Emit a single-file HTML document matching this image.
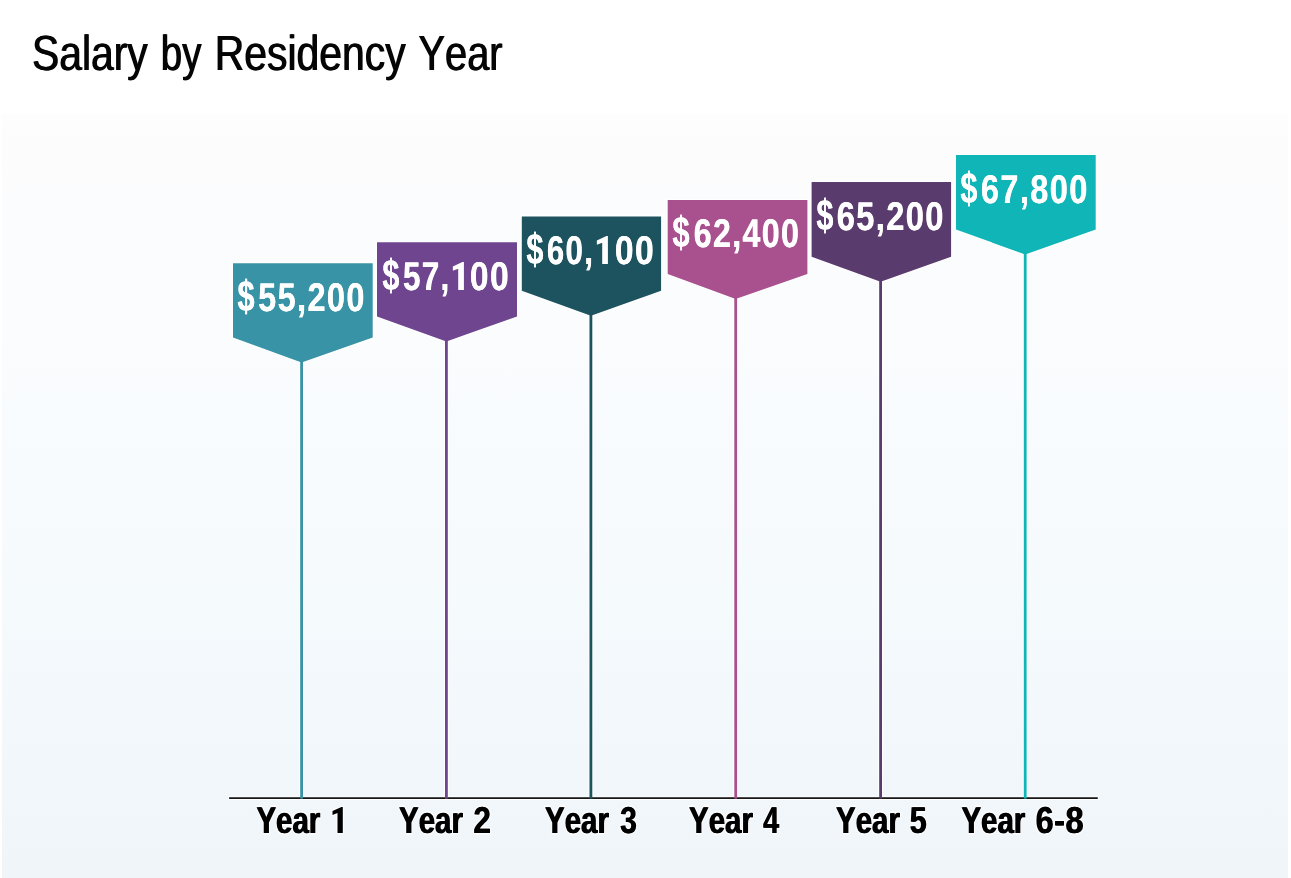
<!DOCTYPE html>
<html><head><meta charset="utf-8"><title>Salary by Residency Year</title>
<style>
html,body{margin:0;padding:0;background:#fff;}
body{width:1291px;height:878px;overflow:hidden;position:relative;font-family:"Liberation Sans",sans-serif;}
svg{position:absolute;left:0;top:0;display:block;will-change:transform;}
text{font-family:"Liberation Sans",sans-serif;text-rendering:geometricPrecision;font-kerning:none;}
.g{fill-opacity:0;stroke:none;}
</style></head><body>
<svg width="1291" height="878" viewBox="0 0 1291 878">
<defs>
<linearGradient id="bg" x1="0" y1="0" x2="0" y2="1">
<stop offset="0" stop-color="#fdfdfd"/>
<stop offset="0.08" stop-color="#fcfcfd"/>
<stop offset="0.3" stop-color="#fafcfe"/>
<stop offset="0.64" stop-color="#f5fafd"/>
<stop offset="1" stop-color="#f0f5fa"/>
</linearGradient>
</defs>
<!-- panel background -->
<rect x="2" y="114" width="1286" height="764" fill="url(#bg)"/>
<!-- soft white halos -->
<g fill="#ffffff" stroke="#ffffff" opacity="0.85">
<rect x="299.2" y="359.5" width="4.8" height="438.5" stroke="none"/>
<polygon points="233.0,263.3 372.7,263.3 372.7,337.5 301.6,362.5 233.0,337.5" stroke-width="2.6" stroke-linejoin="miter"/>
<rect x="444.0" y="338.5" width="4.8" height="459.5" stroke="none"/>
<polygon points="377.0,242.3 517.0,242.3 517.0,316.5 446.4,341.5 377.0,316.5" stroke-width="2.6" stroke-linejoin="miter"/>
<rect x="588.5" y="312.8" width="4.8" height="485.2" stroke="none"/>
<polygon points="521.8,216.5 661.1,216.5 661.1,290.8 590.9,315.8 521.8,290.8" stroke-width="2.6" stroke-linejoin="miter"/>
<rect x="733.3" y="295.9" width="4.8" height="502.1" stroke="none"/>
<polygon points="667.7,200.1 807.4,200.1 807.4,273.9 735.7,298.9 667.7,273.9" stroke-width="2.6" stroke-linejoin="miter"/>
<rect x="878.2" y="278.7" width="4.8" height="519.3" stroke="none"/>
<polygon points="811.6,182.1 951.1,182.1 951.1,256.7 880.6,281.7 811.6,256.7" stroke-width="2.6" stroke-linejoin="miter"/>
<rect x="1022.8" y="251.5" width="4.8" height="546.5" stroke="none"/>
<polygon points="956.0,155.1 1095.7,155.1 1095.7,229.5 1025.2,254.5 956.0,229.5" stroke-width="2.6" stroke-linejoin="miter"/>
<rect x="228.1" y="796.3" width="870.7" height="3.6" stroke="none"/>
<use href="#y0" x="0.5" stroke-width="3.2" stroke-linejoin="round"/>
<use href="#y1" x="0.5" stroke-width="3.2" stroke-linejoin="round"/>
<use href="#n1" x="0.4" stroke-width="3.0" stroke-linejoin="round"/>
<use href="#y2" x="0.5" stroke-width="3.2" stroke-linejoin="round"/>
<use href="#n2" x="0.4" stroke-width="3.0" stroke-linejoin="round"/>
<use href="#y3" x="0.5" stroke-width="3.2" stroke-linejoin="round"/>
<use href="#n3" x="0.4" stroke-width="3.0" stroke-linejoin="round"/>
<use href="#y4" x="0.5" stroke-width="3.2" stroke-linejoin="round"/>
<use href="#n4" x="0.4" stroke-width="3.0" stroke-linejoin="round"/>
<use href="#y5" x="0.5" stroke-width="3.2" stroke-linejoin="round"/>
<use href="#n5" x="0.4" stroke-width="3.0" stroke-linejoin="round"/>
<use href="#p2" stroke-width="2.2" stroke-linejoin="round"/>
</g>
<!-- axis, stems, flags -->
<rect x="229.1" y="797.3" width="868.7" height="1.6" fill="#000"/>
<rect x="300.2" y="359.5" width="2.8" height="439.1" fill="#3793a5"/>
<rect x="445.0" y="338.5" width="2.8" height="460.1" fill="#6f4590"/>
<rect x="589.5" y="312.8" width="2.8" height="485.8" fill="#1c535e"/>
<rect x="734.3" y="295.9" width="2.8" height="502.7" fill="#a9518f"/>
<rect x="879.2" y="278.7" width="2.8" height="519.9" fill="#5a3b6e"/>
<rect x="1023.8" y="251.5" width="2.8" height="547.1" fill="#10b5b7"/>
<polygon points="233.0,263.3 372.7,263.3 372.7,337.5 301.6,362.5 233.0,337.5" fill="#3793a5"/>
<polygon points="377.0,242.3 517.0,242.3 517.0,316.5 446.4,341.5 377.0,316.5" fill="#6f4590"/>
<polygon points="521.8,216.5 661.1,216.5 661.1,290.8 590.9,315.8 521.8,290.8" fill="#1c535e"/>
<polygon points="667.7,200.1 807.4,200.1 807.4,273.9 735.7,298.9 667.7,273.9" fill="#a9518f"/>
<polygon points="811.6,182.1 951.1,182.1 951.1,256.7 880.6,281.7 811.6,256.7" fill="#5a3b6e"/>
<polygon points="956.0,155.1 1095.7,155.1 1095.7,229.5 1025.2,254.5 956.0,229.5" fill="#10b5b7"/>
<!-- title -->
<g fill="#050505">
<text id="t0" transform="translate(31.51 70) scale(0.8264 1)" font-size="49.4" font-weight="normal">Salary </text>
<use href="#t0" x="1.0"/>
<text id="t1" transform="translate(160.30 70) scale(0.7778 1)" font-size="49.4" font-weight="normal">by </text>
<use href="#t1" x="1.0"/>
<text id="t2" transform="translate(214.20 70) scale(0.8282 1)" font-size="49.4" font-weight="normal">Residency </text>
<use href="#t2" x="1.0"/>
<text id="t3" transform="translate(417.95 70) scale(0.8060 1)" font-size="49.4" font-weight="normal">Year</text>
<use href="#t3" x="1.0"/>
</g>
<!-- value labels -->
<g fill="#ffffff">
<text id="d0" transform="translate(237.30 311.2) scale(0.7649 1.09)" font-size="40" font-weight="bold">$</text>
<use href="#d0" x="0.4"/>
<text id="v0" transform="translate(257.92 311) scale(0.8127 1)" font-size="40" font-weight="bold" letter-spacing="1.7">55,200</text>
<use href="#v0" x="0.4"/>
</g>
<g fill="#ffffff">
<text id="d1" transform="translate(382.16 290.2) scale(0.7655 1.09)" font-size="40" font-weight="bold">$</text>
<use href="#d1" x="0.4"/>
<text id="v1" transform="translate(402.74 290) scale(0.7856 1)" font-size="40" font-weight="bold" letter-spacing="1.7">57,</text>
<use href="#v1" x="0.4"/>
<path id="p0" d="M463.90,262.10 L463.90,290.00 L458.21,290.00 L458.21,268.75 L452.85,270.68 L452.85,266.50 L462.40,262.10 Z"/>
<text class="g" x="452.6" y="290" font-size="40" font-weight="bold">1</text>
<text id="w1" transform="translate(469.72 290) scale(0.8397 1)" font-size="40" font-weight="bold" letter-spacing="1.7">00</text>
<use href="#w1" x="0.4"/>
</g>
<g fill="#ffffff">
<text id="d2" transform="translate(526.20 264.2) scale(0.7663 1.09)" font-size="40" font-weight="bold">$</text>
<use href="#d2" x="0.4"/>
<text id="v2" transform="translate(546.68 264) scale(0.7793 1)" font-size="40" font-weight="bold" letter-spacing="1.7">60,</text>
<use href="#v2" x="0.4"/>
<path id="p1" d="M607.90,236.10 L607.90,264.00 L602.21,264.00 L602.21,242.75 L596.85,244.68 L596.85,240.50 L606.40,236.10 Z"/>
<text class="g" x="596.6" y="264" font-size="40" font-weight="bold">1</text>
<text id="w2" transform="translate(614.63 264) scale(0.8421 1)" font-size="40" font-weight="bold" letter-spacing="1.7">00</text>
<use href="#w2" x="0.4"/>
</g>
<g fill="#ffffff">
<text id="d3" transform="translate(672.20 247.2) scale(0.7752 1.09)" font-size="40" font-weight="bold">$</text>
<use href="#d3" x="0.4"/>
<text id="v3" transform="translate(693.48 247) scale(0.8039 1)" font-size="40" font-weight="bold" letter-spacing="1.7">62,400</text>
<use href="#v3" x="0.4"/>
</g>
<g fill="#ffffff">
<text id="d4" transform="translate(816.17 230.2) scale(0.7659 1.09)" font-size="40" font-weight="bold">$</text>
<use href="#d4" x="0.4"/>
<text id="v4" transform="translate(836.52 230) scale(0.8155 1)" font-size="40" font-weight="bold" letter-spacing="1.7">65,200</text>
<use href="#v4" x="0.4"/>
</g>
<g fill="#ffffff">
<text id="d5" transform="translate(960.16 203.2) scale(0.7660 1.09)" font-size="40" font-weight="bold">$</text>
<use href="#d5" x="0.4"/>
<text id="v5" transform="translate(980.71 203) scale(0.8128 1)" font-size="40" font-weight="bold" letter-spacing="1.7">67,800</text>
<use href="#v5" x="0.4"/>
</g>
<!-- year labels -->
<g fill="#000000">
<text id="y0" transform="translate(255.90 833) scale(0.7862 1)" font-size="37.5" font-weight="bold">Year</text>
<use href="#y0" x="1.0"/>
<text class="g" x="322.4" y="833" font-size="37.5" font-weight="bold"> </text>
<path id="p2" d="M342.80,806.90 L342.80,832.90 L337.50,832.90 L337.50,813.10 L332.50,814.90 L332.50,811.00 L341.40,806.90 Z"/>
<text class="g" x="333" y="833" font-size="37.5" font-weight="bold">1</text>
</g>
<g fill="#000000">
<text id="y1" transform="translate(398.61 833) scale(0.7843 1)" font-size="37.5" font-weight="bold">Year</text>
<use href="#y1" x="1.0"/>
<text class="g" x="465.1" y="833" font-size="37.5" font-weight="bold"> </text>
<text id="n1" transform="translate(473.01 833) scale(0.8410 1)" font-size="37.5" font-weight="bold" letter-spacing="0.6">2</text>
<use href="#n1" x="0.8"/>
</g>
<g fill="#000000">
<text id="y2" transform="translate(544.61 833) scale(0.7843 1)" font-size="37.5" font-weight="bold">Year</text>
<use href="#y2" x="1.0"/>
<text class="g" x="611.1" y="833" font-size="37.5" font-weight="bold"> </text>
<text id="n2" transform="translate(619.68 833) scale(0.8040 1)" font-size="37.5" font-weight="bold" letter-spacing="0.6">3</text>
<use href="#n2" x="0.8"/>
</g>
<g fill="#000000">
<text id="y3" transform="translate(688.61 833) scale(0.7843 1)" font-size="37.5" font-weight="bold">Year</text>
<use href="#y3" x="1.0"/>
<text class="g" x="755.1" y="833" font-size="37.5" font-weight="bold"> </text>
<text id="n3" transform="translate(762.63 833) scale(0.7665 1)" font-size="37.5" font-weight="bold" letter-spacing="0.6">4</text>
<use href="#n3" x="0.8"/>
</g>
<g fill="#000000">
<text id="y4" transform="translate(835.61 833) scale(0.7843 1)" font-size="37.5" font-weight="bold">Year</text>
<use href="#y4" x="1.0"/>
<text class="g" x="902.1" y="833" font-size="37.5" font-weight="bold"> </text>
<text id="n4" transform="translate(909.34 833) scale(0.8096 1)" font-size="37.5" font-weight="bold" letter-spacing="0.6">5</text>
<use href="#n4" x="0.8"/>
</g>
<g fill="#000000">
<text id="y5" transform="translate(960.90 833) scale(0.7862 1)" font-size="37.5" font-weight="bold">Year</text>
<use href="#y5" x="1.0"/>
<text class="g" x="1027.4" y="833" font-size="37.5" font-weight="bold"> </text>
<text id="n5" transform="translate(1035.18 833) scale(0.8666 1)" font-size="37.5" font-weight="bold" letter-spacing="0.6">6-8</text>
<use href="#n5" x="0.8"/>
</g>
</svg></body></html>
